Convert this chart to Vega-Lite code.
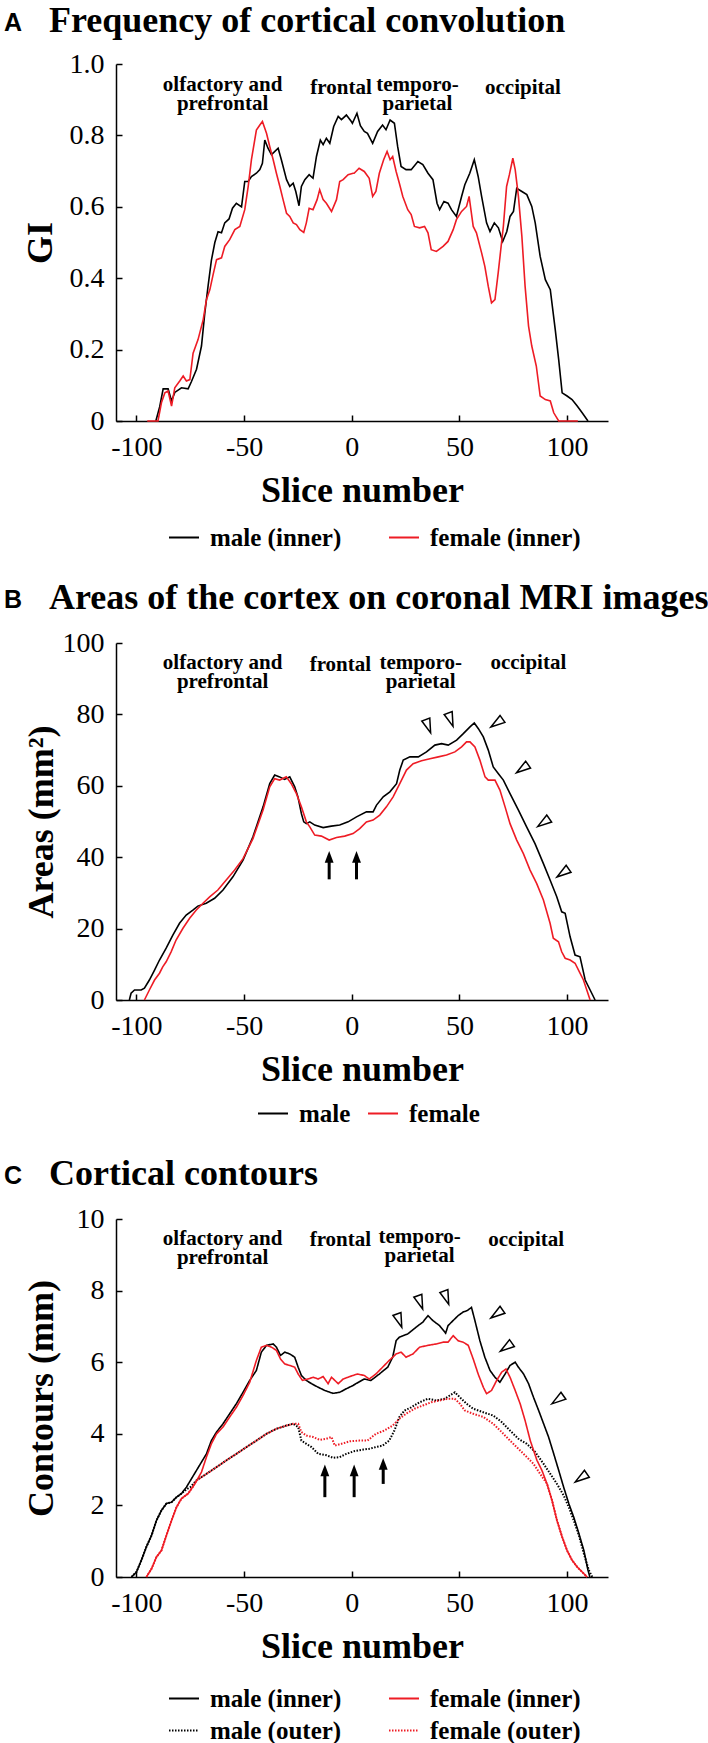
{
"$schema": "https://vega.github.io/schema/vega-lite/v6.json",
"background": "white",
"padding": {"left": 4, "top": 3, "right": 0, "bottom": 0},
"config": {
 "view": {"stroke": null},
 "font": "Liberation Serif",
 "axis": {"grid": false, "domainColor": "#000", "domainWidth": 1.5, "tickColor": "#000", "tickWidth": 1.5, "tickSize": -6, "labelFont": "Liberation Serif", "labelFontSize": 28, "labelColor": "#000", "titleFont": "Liberation Serif", "titleFontSize": 36, "titleFontWeight": "bold", "titleColor": "#000"},
 "axisX": {"labelPadding": 18, "titlePadding": 12, "labelExpr": "'' + datum.value"},
 "axisY": {"labelPadding": 18},
 "legend": {"orient": "none", "direction": "horizontal", "columns": 2, "symbolType": "stroke", "symbolSize": 900, "symbolStrokeWidth": 2, "labelFont": "Liberation Serif", "labelFontSize": 25, "labelFontWeight": "bold", "labelColor": "#000", "labelOffset": 10, "columnPadding": 46, "rowPadding": 5, "clipHeight": 27, "title": null},
 "title": {"anchor": "start", "frame": "group", "dx": -112, "font": "Liberation Sans", "fontSize": 25, "fontWeight": "bold", "color": "#000", "subtitleFont": "Liberation Serif", "subtitleFontSize": 36, "subtitleFontWeight": "bold", "subtitleColor": "#000", "subtitlePadding": -32, "offset": 5}
},
"datasets": {
 "Am": [{"x":-91,"v":0},{"x":-89.2,"v":0.04},{"x":-87.6,"v":0.09},{"x":-85.3,"v":0.09},{"x":-83.7,"v":0.056},{"x":-82.2,"v":0.08},{"x":-79.1,"v":0.093},{"x":-76,"v":0.09},{"x":-74.5,"v":0.11},{"x":-72.1,"v":0.145},{"x":-69.8,"v":0.21},{"x":-68.3,"v":0.3},{"x":-66.7,"v":0.38},{"x":-65.2,"v":0.45},{"x":-63.6,"v":0.5},{"x":-62.1,"v":0.53},{"x":-60.5,"v":0.527},{"x":-59,"v":0.555},{"x":-57,"v":0.566},{"x":-55.4,"v":0.596},{"x":-53.6,"v":0.61},{"x":-51.2,"v":0.6},{"x":-49.7,"v":0.671},{"x":-48.1,"v":0.671},{"x":-46.6,"v":0.685},{"x":-44.3,"v":0.694},{"x":-42.7,"v":0.704},{"x":-41.5,"v":0.722},{"x":-40.4,"v":0.787},{"x":-38.9,"v":0.764},{"x":-37.3,"v":0.746},{"x":-34.2,"v":0.764},{"x":-32.7,"v":0.732},{"x":-30.3,"v":0.676},{"x":-28.8,"v":0.657},{"x":-27.2,"v":0.666},{"x":-26,"v":0.643},{"x":-24.5,"v":0.603},{"x":-23.4,"v":0.657},{"x":-21.8,"v":0.676},{"x":-19.8,"v":0.69},{"x":-18,"v":0.68},{"x":-16.4,"v":0.741},{"x":-14.6,"v":0.787},{"x":-13.3,"v":0.774},{"x":-11.8,"v":0.792},{"x":-10.2,"v":0.778},{"x":-8.4,"v":0.825},{"x":-6.3,"v":0.853},{"x":-4.8,"v":0.844},{"x":-2.5,"v":0.857},{"x":-0.2,"v":0.839},{"x":0.3,"v":0.834},{"x":2.4,"v":0.862},{"x":4,"v":0.827},{"x":5.8,"v":0.811},{"x":7.3,"v":0.806},{"x":9.7,"v":0.778},{"x":12,"v":0.811},{"x":14.3,"v":0.829},{"x":15.9,"v":0.816},{"x":17.8,"v":0.843},{"x":19.8,"v":0.834},{"x":21.3,"v":0.769},{"x":22.9,"v":0.713},{"x":25.2,"v":0.704},{"x":27.6,"v":0.704},{"x":30.7,"v":0.727},{"x":33,"v":0.718},{"x":35.4,"v":0.694},{"x":37.7,"v":0.676},{"x":39.6,"v":0.61},{"x":40.8,"v":0.592},{"x":42.8,"v":0.615},{"x":44.7,"v":0.61},{"x":46.3,"v":0.592},{"x":48.6,"v":0.573},{"x":51,"v":0.629},{"x":52.5,"v":0.662},{"x":54.8,"v":0.694},{"x":56.9,"v":0.732},{"x":58.7,"v":0.685},{"x":60.3,"v":0.629},{"x":62.6,"v":0.555},{"x":64.2,"v":0.531},{"x":66.2,"v":0.555},{"x":68.1,"v":0.541},{"x":70.1,"v":0.503},{"x":72,"v":0.531},{"x":73.5,"v":0.573},{"x":75.1,"v":0.587},{"x":76.6,"v":0.652},{"x":79,"v":0.643},{"x":81.3,"v":0.634},{"x":83.6,"v":0.601},{"x":85.2,"v":0.555},{"x":87.5,"v":0.461},{"x":89.9,"v":0.396},{"x":92.2,"v":0.368},{"x":94.5,"v":0.256},{"x":96.1,"v":0.172},{"x":97.7,"v":0.079},{"x":100,"v":0.07},{"x":102.3,"v":0.06},{"x":104.7,"v":0.042},{"x":107,"v":0.023},{"x":109.7,"v":0}],
 "Af": [{"x":-95,"v":0},{"x":-90,"v":0},{"x":-88.4,"v":0.051},{"x":-86.8,"v":0.079},{"x":-85.3,"v":0.084},{"x":-83.7,"v":0.042},{"x":-82.2,"v":0.093},{"x":-79.9,"v":0.112},{"x":-78.3,"v":0.126},{"x":-76.8,"v":0.112},{"x":-75.2,"v":0.116},{"x":-73.7,"v":0.19},{"x":-71.4,"v":0.228},{"x":-69,"v":0.284},{"x":-67.5,"v":0.34},{"x":-65.9,"v":0.368},{"x":-64.4,"v":0.41},{"x":-62.8,"v":0.452},{"x":-60.5,"v":0.457},{"x":-59,"v":0.489},{"x":-56.7,"v":0.508},{"x":-54.3,"v":0.536},{"x":-52,"v":0.545},{"x":-49.7,"v":0.592},{"x":-48.1,"v":0.657},{"x":-46.6,"v":0.732},{"x":-44.3,"v":0.815},{"x":-42.7,"v":0.829},{"x":-41.5,"v":0.839},{"x":-39.6,"v":0.806},{"x":-38.1,"v":0.769},{"x":-36.5,"v":0.732},{"x":-35,"v":0.694},{"x":-33.4,"v":0.657},{"x":-31.9,"v":0.62},{"x":-30.3,"v":0.582},{"x":-28.8,"v":0.573},{"x":-27.2,"v":0.555},{"x":-25.7,"v":0.55},{"x":-24.1,"v":0.536},{"x":-22.3,"v":0.528},{"x":-21.1,"v":0.555},{"x":-19.8,"v":0.596},{"x":-18,"v":0.592},{"x":-16.1,"v":0.62},{"x":-14.9,"v":0.648},{"x":-13.3,"v":0.62},{"x":-11.8,"v":0.61},{"x":-9.4,"v":0.587},{"x":-7.1,"v":0.62},{"x":-5.6,"v":0.671},{"x":-4,"v":0.676},{"x":-1.7,"v":0.69},{"x":0.6,"v":0.694},{"x":1.1,"v":0.694},{"x":3.4,"v":0.708},{"x":5.8,"v":0.699},{"x":8.1,"v":0.68},{"x":9.7,"v":0.629},{"x":11.2,"v":0.643},{"x":12.8,"v":0.694},{"x":14.8,"v":0.732},{"x":16.4,"v":0.755},{"x":17.8,"v":0.732},{"x":19,"v":0.741},{"x":20.6,"v":0.699},{"x":22.1,"v":0.666},{"x":23.7,"v":0.629},{"x":26,"v":0.592},{"x":27.6,"v":0.578},{"x":29.1,"v":0.545},{"x":31.5,"v":0.541},{"x":33.8,"v":0.545},{"x":35.4,"v":0.527},{"x":36.9,"v":0.48},{"x":39.3,"v":0.475},{"x":42.4,"v":0.489},{"x":44.7,"v":0.503},{"x":47.1,"v":0.536},{"x":48.6,"v":0.564},{"x":51,"v":0.587},{"x":53.3,"v":0.601},{"x":54.5,"v":0.629},{"x":56.4,"v":0.545},{"x":57.9,"v":0.527},{"x":60.3,"v":0.471},{"x":61.8,"v":0.433},{"x":63.4,"v":0.377},{"x":64.9,"v":0.331},{"x":66.5,"v":0.34},{"x":68,"v":0.415},{"x":70.4,"v":0.545},{"x":71.9,"v":0.657},{"x":73.2,"v":0.69},{"x":74.8,"v":0.736},{"x":75.9,"v":0.704},{"x":77.4,"v":0.629},{"x":79,"v":0.517},{"x":80.5,"v":0.377},{"x":82.1,"v":0.266},{"x":83.6,"v":0.21},{"x":85.7,"v":0.154},{"x":87.5,"v":0.07},{"x":89.9,"v":0.06},{"x":92.2,"v":0.056},{"x":93.8,"v":0.023},{"x":96.1,"v":0},{"x":105,"v":0}],
 "Bm": [{"x":-103.3,"v":0},{"x":-102.5,"v":1.9},{"x":-100.9,"v":2.8},{"x":-97.8,"v":2.8},{"x":-96.3,"v":3.3},{"x":-94,"v":5.6},{"x":-91.6,"v":8.4},{"x":-89.3,"v":11.2},{"x":-86.2,"v":14.5},{"x":-83.1,"v":18.2},{"x":-80,"v":21.5},{"x":-76.9,"v":23.8},{"x":-73.8,"v":25.2},{"x":-71.5,"v":26.3},{"x":-67.6,"v":27.1},{"x":-63.7,"v":28.5},{"x":-59.8,"v":30.8},{"x":-55.2,"v":34.5},{"x":-50.5,"v":39.2},{"x":-45.9,"v":45.7},{"x":-41.2,"v":54.1},{"x":-38.1,"v":60.6},{"x":-35.8,"v":63},{"x":-33.5,"v":62.5},{"x":-31.2,"v":61.8},{"x":-28.8,"v":62.5},{"x":-26.5,"v":59.7},{"x":-25,"v":56.9},{"x":-23.4,"v":52.2},{"x":-22.3,"v":49.9},{"x":-21.1,"v":49.4},{"x":-19.5,"v":49.9},{"x":-17.2,"v":49},{"x":-13.3,"v":48.3},{"x":-9.5,"v":48.7},{"x":-5.6,"v":49},{"x":-1.7,"v":49.9},{"x":2.2,"v":51.3},{"x":6.8,"v":52.7},{"x":9.9,"v":52.7},{"x":11.5,"v":54.6},{"x":14.6,"v":56.9},{"x":17.7,"v":58.3},{"x":20.8,"v":60.6},{"x":22.3,"v":64.4},{"x":23.9,"v":67.2},{"x":27,"v":68.1},{"x":30.9,"v":68.1},{"x":34.7,"v":69.5},{"x":38.6,"v":71.4},{"x":41.7,"v":71.8},{"x":44.8,"v":71.4},{"x":48.7,"v":72.8},{"x":51.8,"v":74.6},{"x":54.9,"v":76.5},{"x":56.9,"v":77.6},{"x":58.8,"v":76},{"x":61.1,"v":73.7},{"x":63.4,"v":70},{"x":65.7,"v":65.3},{"x":68.1,"v":63.4},{"x":70.4,"v":61.6},{"x":73.5,"v":57.8},{"x":77.4,"v":53.2},{"x":81.2,"v":48.5},{"x":85.1,"v":43.8},{"x":89,"v":38.2},{"x":92.1,"v":33.6},{"x":95.2,"v":28.9},{"x":97.5,"v":24.7},{"x":99.1,"v":24.3},{"x":101.4,"v":17.7},{"x":103.7,"v":12.6},{"x":106,"v":12.1},{"x":108.4,"v":5.6},{"x":110.7,"v":2.8},{"x":113,"v":0}],
 "Bf": [{"x":-96.3,"v":0},{"x":-94,"v":2.8},{"x":-91.6,"v":5.6},{"x":-89.3,"v":7.5},{"x":-87.8,"v":9.3},{"x":-86.2,"v":10.7},{"x":-83.9,"v":13.5},{"x":-81.6,"v":16.8},{"x":-78.4,"v":20.1},{"x":-75.3,"v":22.9},{"x":-72.2,"v":25.2},{"x":-69.1,"v":27.1},{"x":-66,"v":28.9},{"x":-62.2,"v":30.8},{"x":-58.3,"v":33.6},{"x":-54.4,"v":36.4},{"x":-50.5,"v":39.6},{"x":-45.9,"v":45.2},{"x":-41.2,"v":53.2},{"x":-38.1,"v":59.7},{"x":-35.8,"v":62},{"x":-33.5,"v":61.6},{"x":-30.4,"v":62.5},{"x":-28.1,"v":60.6},{"x":-25.7,"v":57.8},{"x":-23.4,"v":54.1},{"x":-21.1,"v":49.9},{"x":-19.5,"v":48.5},{"x":-17.2,"v":46.2},{"x":-14.1,"v":45.9},{"x":-10.5,"v":44.8},{"x":-7.1,"v":45.5},{"x":-3.3,"v":45.9},{"x":0.6,"v":46.6},{"x":3.7,"v":48},{"x":6.8,"v":49.9},{"x":9.9,"v":50.4},{"x":13,"v":51.8},{"x":16.1,"v":54.1},{"x":19.2,"v":56.9},{"x":22.3,"v":60.6},{"x":25.4,"v":64.4},{"x":28.5,"v":66.2},{"x":32.4,"v":67},{"x":36.3,"v":67.6},{"x":40.2,"v":68.1},{"x":44,"v":68.6},{"x":47.9,"v":69.5},{"x":51,"v":70.9},{"x":53.3,"v":72.3},{"x":54.9,"v":72.3},{"x":57.2,"v":70.9},{"x":59.5,"v":67.2},{"x":61.9,"v":62.5},{"x":63.4,"v":61.6},{"x":66.5,"v":61.6},{"x":68.8,"v":58.8},{"x":71.2,"v":54.1},{"x":73.5,"v":49.4},{"x":76.6,"v":44.8},{"x":79.7,"v":41},{"x":82.8,"v":36.4},{"x":85.9,"v":32.6},{"x":89,"v":28},{"x":92.1,"v":21.5},{"x":93.6,"v":17.3},{"x":96,"v":16.3},{"x":97.5,"v":13.5},{"x":99.1,"v":11.7},{"x":101.4,"v":11.2},{"x":103.7,"v":10.3},{"x":106,"v":7.5},{"x":107.6,"v":5.6},{"x":110.7,"v":0}],
 "Cmi": [{"x":-102.3,"v":0},{"x":-100,"v":0.14},{"x":-97.7,"v":0.47},{"x":-95.4,"v":0.84},{"x":-93,"v":1.16},{"x":-90.7,"v":1.58},{"x":-88.4,"v":1.86},{"x":-86.1,"v":2.05},{"x":-83.7,"v":2.09},{"x":-81.4,"v":2.23},{"x":-79.1,"v":2.33},{"x":-76.8,"v":2.51},{"x":-74.5,"v":2.74},{"x":-72.1,"v":2.98},{"x":-69.8,"v":3.21},{"x":-67.5,"v":3.44},{"x":-65.2,"v":3.81},{"x":-62.8,"v":4.05},{"x":-59.8,"v":4.28},{"x":-56.7,"v":4.56},{"x":-53.6,"v":4.84},{"x":-50.5,"v":5.16},{"x":-47.4,"v":5.49},{"x":-44.3,"v":5.77},{"x":-42,"v":6.28},{"x":-39.6,"v":6.47},{"x":-36.5,"v":6.51},{"x":-35,"v":6.42},{"x":-33.1,"v":6.19},{"x":-31.1,"v":6.28},{"x":-28.8,"v":6.23},{"x":-26.5,"v":6.14},{"x":-24.9,"v":5.86},{"x":-23.4,"v":5.63},{"x":-21.1,"v":5.49},{"x":-18.7,"v":5.4},{"x":-15.6,"v":5.3},{"x":-12.5,"v":5.21},{"x":-8.7,"v":5.13},{"x":-5.6,"v":5.16},{"x":-2.5,"v":5.26},{"x":0.6,"v":5.35},{"x":1.9,"v":5.4},{"x":5.8,"v":5.53},{"x":8.9,"v":5.49},{"x":12.8,"v":5.67},{"x":16.7,"v":5.86},{"x":19,"v":6.14},{"x":20.6,"v":6.6},{"x":22.1,"v":6.7},{"x":26,"v":6.79},{"x":29.9,"v":6.98},{"x":33,"v":7.12},{"x":35.4,"v":7.3},{"x":37.7,"v":7.16},{"x":40.8,"v":7.02},{"x":43.6,"v":6.81},{"x":44.7,"v":7.02},{"x":47,"v":7.16},{"x":49.4,"v":7.3},{"x":51.7,"v":7.4},{"x":53.6,"v":7.44},{"x":55.6,"v":7.53},{"x":57.2,"v":7.16},{"x":59.5,"v":6.6},{"x":61.8,"v":6.14},{"x":64.2,"v":5.77},{"x":66.5,"v":5.58},{"x":68.8,"v":5.44},{"x":71.2,"v":5.67},{"x":73.5,"v":5.91},{"x":75.9,"v":6},{"x":77.4,"v":5.86},{"x":79.8,"v":5.67},{"x":82.1,"v":5.4},{"x":84.4,"v":5.02},{"x":86.8,"v":4.65},{"x":89.1,"v":4.28},{"x":91.4,"v":3.91},{"x":93.8,"v":3.44},{"x":96.1,"v":2.98},{"x":98.4,"v":2.51},{"x":100.8,"v":2.05},{"x":103.1,"v":1.67},{"x":105.5,"v":1.21},{"x":107.8,"v":0.74},{"x":109.7,"v":0.19},{"x":110.6,"v":0}],
 "Cfi": [{"x":-95.4,"v":0},{"x":-93,"v":0.23},{"x":-90.7,"v":0.56},{"x":-88.4,"v":0.74},{"x":-86.1,"v":1.16},{"x":-83.7,"v":1.58},{"x":-81.4,"v":1.95},{"x":-79.1,"v":2.19},{"x":-76,"v":2.33},{"x":-72.9,"v":2.6},{"x":-69.8,"v":2.93},{"x":-67.5,"v":3.35},{"x":-65.2,"v":3.72},{"x":-62.8,"v":4},{"x":-59.8,"v":4.19},{"x":-56.7,"v":4.47},{"x":-53.6,"v":4.74},{"x":-50.5,"v":5.07},{"x":-47.4,"v":5.44},{"x":-44.3,"v":6.05},{"x":-42,"v":6.42},{"x":-39.6,"v":6.47},{"x":-37.3,"v":6.42},{"x":-35,"v":6.33},{"x":-33.1,"v":6.09},{"x":-31.1,"v":5.95},{"x":-28.8,"v":5.91},{"x":-26.5,"v":5.86},{"x":-24.9,"v":5.67},{"x":-22.9,"v":5.49},{"x":-20.3,"v":5.53},{"x":-17.9,"v":5.58},{"x":-15.6,"v":5.53},{"x":-13.3,"v":5.6},{"x":-11,"v":5.4},{"x":-9.4,"v":5.58},{"x":-6.3,"v":5.4},{"x":-4,"v":5.53},{"x":-0.9,"v":5.6},{"x":2.6,"v":5.67},{"x":5.8,"v":5.63},{"x":8.1,"v":5.53},{"x":11.2,"v":5.67},{"x":14.3,"v":5.86},{"x":17.4,"v":6.05},{"x":20.6,"v":6.23},{"x":22.9,"v":6.28},{"x":25.2,"v":6.14},{"x":28.4,"v":6.23},{"x":31.5,"v":6.42},{"x":35.4,"v":6.47},{"x":39.3,"v":6.51},{"x":42.4,"v":6.56},{"x":44.7,"v":6.56},{"x":47.1,"v":6.74},{"x":49.4,"v":6.6},{"x":51.7,"v":6.56},{"x":54.1,"v":6.47},{"x":56.4,"v":6.09},{"x":58.7,"v":5.67},{"x":61.1,"v":5.3},{"x":62.6,"v":5.12},{"x":64.9,"v":5.21},{"x":67.3,"v":5.49},{"x":69.6,"v":5.72},{"x":71.6,"v":5.81},{"x":73.5,"v":5.58},{"x":75.9,"v":5.21},{"x":78.2,"v":4.84},{"x":80.5,"v":4.37},{"x":82.9,"v":3.81},{"x":86,"v":3.26},{"x":88.3,"v":2.98},{"x":90.7,"v":2.6},{"x":93,"v":2.14},{"x":95.3,"v":1.58},{"x":97.7,"v":1.12},{"x":100,"v":0.74},{"x":102.3,"v":0.47},{"x":104.7,"v":0.28},{"x":107,"v":0.14},{"x":109.3,"v":0}],
 "Cmo": [{"x":-102.3,"v":0},{"x":-100,"v":0.14},{"x":-97.7,"v":0.47},{"x":-95.4,"v":0.84},{"x":-93,"v":1.16},{"x":-90.7,"v":1.58},{"x":-88.4,"v":1.86},{"x":-86.1,"v":2.05},{"x":-83.7,"v":2.09},{"x":-81.4,"v":2.23},{"x":-79.1,"v":2.33},{"x":-76.8,"v":2.45},{"x":-75,"v":2.51},{"x":-72.1,"v":2.7},{"x":-67.5,"v":2.88},{"x":-62.8,"v":3.07},{"x":-58.2,"v":3.26},{"x":-53.6,"v":3.44},{"x":-48.9,"v":3.63},{"x":-44.3,"v":3.81},{"x":-39.6,"v":4},{"x":-35,"v":4.14},{"x":-30.3,"v":4.23},{"x":-27.2,"v":4.28},{"x":-24.9,"v":4.19},{"x":-23.4,"v":3.81},{"x":-21.1,"v":3.72},{"x":-18.7,"v":3.63},{"x":-15.6,"v":3.44},{"x":-11.8,"v":3.4},{"x":-8.7,"v":3.33},{"x":-5.6,"v":3.35},{"x":-2.5,"v":3.44},{"x":1.4,"v":3.52},{"x":5.3,"v":3.56},{"x":8.1,"v":3.58},{"x":11.2,"v":3.63},{"x":14.3,"v":3.67},{"x":17.4,"v":3.81},{"x":19.8,"v":4.09},{"x":22.1,"v":4.47},{"x":24.5,"v":4.65},{"x":27.6,"v":4.74},{"x":31.5,"v":4.88},{"x":35.4,"v":4.98},{"x":39.3,"v":4.93},{"x":43.2,"v":4.98},{"x":45.5,"v":5.07},{"x":47.9,"v":5.16},{"x":50.2,"v":5.02},{"x":53.3,"v":4.84},{"x":56.4,"v":4.7},{"x":61.1,"v":4.6},{"x":65.7,"v":4.51},{"x":69.6,"v":4.33},{"x":73.5,"v":4.09},{"x":77.4,"v":3.86},{"x":81.3,"v":3.72},{"x":85.2,"v":3.49},{"x":89.1,"v":3.16},{"x":92.2,"v":2.88},{"x":95.3,"v":2.6},{"x":98.4,"v":2.28},{"x":100.8,"v":1.95},{"x":103.1,"v":1.58},{"x":105.5,"v":1.16},{"x":107.8,"v":0.65},{"x":110.1,"v":0.19},{"x":111.7,"v":0}],
 "Cfo": [{"x":-95.4,"v":0},{"x":-93,"v":0.23},{"x":-90.7,"v":0.56},{"x":-88.4,"v":0.74},{"x":-86.1,"v":1.16},{"x":-83.7,"v":1.58},{"x":-81.4,"v":1.95},{"x":-79.1,"v":2.19},{"x":-76,"v":2.33},{"x":-74,"v":2.5},{"x":-72.1,"v":2.7},{"x":-67.5,"v":2.88},{"x":-62.8,"v":3.07},{"x":-58.2,"v":3.26},{"x":-53.6,"v":3.44},{"x":-48.9,"v":3.63},{"x":-44.3,"v":3.81},{"x":-39.6,"v":4},{"x":-35,"v":4.14},{"x":-30.3,"v":4.23},{"x":-27.2,"v":4.28},{"x":-24.9,"v":4.28},{"x":-23.4,"v":4.05},{"x":-21.1,"v":3.95},{"x":-18,"v":3.91},{"x":-14.9,"v":3.83},{"x":-11.8,"v":3.86},{"x":-9.4,"v":3.91},{"x":-7.9,"v":3.67},{"x":-4.8,"v":3.72},{"x":-0.9,"v":3.79},{"x":3.4,"v":3.81},{"x":7.3,"v":3.81},{"x":11.2,"v":4},{"x":15.1,"v":4.09},{"x":19,"v":4.23},{"x":22.1,"v":4.42},{"x":25.2,"v":4.56},{"x":29.1,"v":4.7},{"x":33,"v":4.79},{"x":36.9,"v":4.88},{"x":40.8,"v":4.93},{"x":44.7,"v":4.98},{"x":47.8,"v":4.98},{"x":50.2,"v":4.84},{"x":52.5,"v":4.65},{"x":56.4,"v":4.56},{"x":61.1,"v":4.47},{"x":65.7,"v":4.28},{"x":69.6,"v":4.05},{"x":73.5,"v":3.81},{"x":77.4,"v":3.58},{"x":81.3,"v":3.35},{"x":84.4,"v":3.16},{"x":87.5,"v":2.88},{"x":90.7,"v":2.6},{"x":93,"v":2.14},{"x":95.3,"v":1.58},{"x":97.7,"v":1.12},{"x":100,"v":0.74},{"x":102.3,"v":0.47},{"x":104.7,"v":0.28},{"x":107,"v":0.14},{"x":109.3,"v":0}],
 "bandA": [{"x":-20,"x2":10},{"x":55,"x2":110}],
 "bandB": [{"x":-20,"x2":10},{"x":55,"x2":114}],
 "bandC": [{"x":-20,"x2":9},{"x":54,"x2":112.5}],
 "labA": [{"x":-60,"v":0.94,"t":"olfactory and\nprefrontal"},{"x":-5,"v":0.933,"t":"frontal"},{"x":30.5,"v":0.94,"t":"temporo-\nparietal"},{"x":79.5,"v":0.933,"t":"occipital"}],
 "labB": [{"x":-60,"v":94.3,"t":"olfactory and\nprefrontal"},{"x":-5.3,"v":93.8,"t":"frontal"},{"x":32,"v":94.3,"t":"temporo-\nparietal"},{"x":82,"v":94.4,"t":"occipital"}],
 "labC": [{"x":-60,"v":9.45,"t":"olfactory and\nprefrontal"},{"x":-5.3,"v":9.4,"t":"frontal"},{"x":31.5,"v":9.5,"t":"temporo-\nparietal"},{"x":81,"v":9.4,"t":"occipital"}],
 "triB": [{"x":35.5,"v":76.7,"side":"upper"},{"x":45.9,"v":78.5,"side":"upper"},{"x":67.3,"v":77.6,"side":"right"},{"x":79.2,"v":64.8,"side":"right"},{"x":89,"v":49.7,"side":"right"},{"x":98,"v":35.6,"side":"right"}],
 "triC": [{"x":22.1,"v":7.16,"side":"upper"},{"x":31.8,"v":7.67,"side":"upper"},{"x":43.9,"v":7.8,"side":"upper"},{"x":67.3,"v":7.35,"side":"right"},{"x":71.7,"v":6.42,"side":"right"},{"x":95.6,"v":4.95,"side":"right"},{"x":106.5,"v":2.77,"side":"right"}],
 "arrB": [{"x":-10.5,"v1":33.8,"v2":40.1},{"x":2.2,"v1":33.8,"v2":40.1}],
 "arrC": [{"x":-12.5,"v1":2.23,"v2":2.98},{"x":1.1,"v1":2.23,"v2":2.98},{"x":14.6,"v1":2.6,"v2":3.16}]
},
"spacing": 29,
"resolve": {"scale": {"x": "independent", "y": "independent", "color": "independent", "strokeDash": "independent"}, "legend": {"color": "independent", "strokeDash": "independent"}},
"vconcat": [
 {
  "width": 492, "height": 357,
  "title": {"text": "A", "fontSize": 25, "offset": 3, "subtitle": "\u200b\u00a0\u00a0\u00a0\u00a0\u00a0Frequency of cortical convolution"},
  "encoding": {
   "x": {"field": "x", "type": "quantitative", "scale": {"domain": [-109.5, 119], "nice": false, "zero": false}, "axis": {"values": [-100, -50, 0, 50, 100], "title": "Slice number"}},
   "y": {"field": "v", "type": "quantitative", "scale": {"domain": [0, 1], "nice": false}, "axis": {"values": [0, 0.2, 0.4, 0.6, 0.8, 1], "labelExpr": "datum.value == 0 ? '0' : format(datum.value, '.1f')", "title": "GI", "titlePadding": 10}}
  },
  "layer": [
   {"data": {"name": "bandA"}, "mark": {"type": "rect", "color": "#f1f1f1"}, "encoding": {"x2": {"field": "x2"}, "y": {"datum": 1, "type": "quantitative"}, "y2": {"datum": 0}}},
   {"data": {"name": "Am"}, "mark": {"type": "line", "strokeWidth": 1.6}, "encoding": {"color": {"datum": "male (inner)", "type": "nominal", "scale": {"domain": ["male (inner)", "female (inner)"], "range": ["#000000", "#ee1c25"]}, "legend": {"legendX": 52, "legendY": 460}}}},
   {"data": {"name": "Af"}, "mark": {"type": "line", "strokeWidth": 1.6}, "encoding": {"color": {"datum": "female (inner)", "type": "nominal"}}},
   {"data": {"name": "labA"}, "mark": {"type": "text", "font": "Liberation Serif", "fontSize": 21, "fontWeight": "bold", "lineBreak": "\n", "lineHeight": 19, "align": "center", "baseline": "middle", "color": "#000"}, "encoding": {"text": {"field": "t"}}}
  ]
 },
 {
  "width": 492, "height": 357,
  "title": {"text": "B", "fontSize": 25, "subtitle": "\u200b\u00a0\u00a0\u00a0\u00a0\u00a0Areas of the cortex on coronal MRI images"},
  "encoding": {
   "x": {"field": "x", "type": "quantitative", "scale": {"domain": [-109.5, 119], "nice": false, "zero": false}, "axis": {"values": [-100, -50, 0, 50, 100], "title": "Slice number"}},
   "y": {"field": "v", "type": "quantitative", "scale": {"domain": [0, 100], "nice": false}, "axis": {"values": [0, 20, 40, 60, 80, 100], "title": "Areas (mm²)", "titlePadding": 2}}
  },
  "layer": [
   {"data": {"name": "bandB"}, "mark": {"type": "rect", "color": "#e6e6e6"}, "encoding": {"x2": {"field": "x2"}, "y": {"datum": 100, "type": "quantitative"}, "y2": {"datum": 0}}},
   {"data": {"name": "Bm"}, "mark": {"type": "line", "strokeWidth": 1.6}, "encoding": {"color": {"datum": "male", "type": "nominal", "scale": {"domain": ["male", "female"], "range": ["#000000", "#ee1c25"]}, "legend": {"legendX": 141, "legendY": 457, "columns": 2, "columnPadding": 16}}}},
   {"data": {"name": "Bf"}, "mark": {"type": "line", "strokeWidth": 1.6}, "encoding": {"color": {"datum": "female", "type": "nominal"}}},
   {"data": {"name": "labB"}, "mark": {"type": "text", "font": "Liberation Serif", "fontSize": 21, "fontWeight": "bold", "lineBreak": "\n", "lineHeight": 19, "align": "center", "baseline": "middle", "color": "#000"}, "encoding": {"text": {"field": "t"}}},
   {"data": {"name": "triB"}, "transform": [{"filter": "datum.side == 'upper'"}], "mark": {"type": "point", "shape": "M0,-1L0.6,1L-0.6,1Z", "size": 200, "filled": false, "stroke": "#000", "strokeWidth": 1.5, "angle": 160, "opacity": 1}},
   {"data": {"name": "triB"}, "transform": [{"filter": "datum.side == 'right'"}], "mark": {"type": "point", "shape": "M0,-1L0.6,1L-0.6,1Z", "size": 200, "filled": false, "stroke": "#000", "strokeWidth": 1.5, "angle": 235, "opacity": 1}},
   {"data": {"name": "arrB"}, "mark": {"type": "rule", "strokeWidth": 3, "color": "#000"}, "encoding": {"y": {"field": "v1", "type": "quantitative"}, "y2": {"field": "v2"}}},
   {"data": {"name": "arrB"}, "mark": {"type": "point", "shape": "M0,-1L0.75,1L-0.75,1Z", "size": 140, "filled": true, "color": "#000", "opacity": 1}, "encoding": {"y": {"field": "v2", "type": "quantitative"}}}
  ]
 },
 {
  "width": 492, "height": 358,
  "title": {"text": "C", "fontSize": 25, "subtitle": "\u200b\u00a0\u00a0\u00a0\u00a0\u00a0Cortical contours"},
  "encoding": {
   "x": {"field": "x", "type": "quantitative", "scale": {"domain": [-109.5, 119], "nice": false, "zero": false}, "axis": {"values": [-100, -50, 0, 50, 100], "title": "Slice number"}},
   "y": {"field": "v", "type": "quantitative", "scale": {"domain": [0, 10], "nice": false}, "axis": {"values": [0, 2, 4, 6, 8, 10], "title": "Contours (mm)", "titlePadding": 16}}
  },
  "layer": [
   {"data": {"name": "bandC"}, "mark": {"type": "rect", "color": "#e6e6e6"}, "encoding": {"x2": {"field": "x2"}, "y": {"datum": 10, "type": "quantitative"}, "y2": {"datum": 0}}},
   {"data": {"name": "Cmo"}, "mark": {"type": "line", "strokeWidth": 2}, "encoding": {"color": {"datum": "male (outer)", "type": "nominal", "scale": {"domain": ["male (inner)", "female (inner)", "male (outer)", "female (outer)"], "range": ["#000000", "#ee1c25", "#000000", "#ee1c25"]}, "legend": {"legendX": 52, "legendY": 466}}, "strokeDash": {"datum": "male (outer)", "type": "nominal", "scale": {"domain": ["male (inner)", "female (inner)", "male (outer)", "female (outer)"], "range": [[1, 0], [1, 0], [1.5, 1.5], [1.5, 1.5]]}, "legend": {"legendX": 52, "legendY": 466}}}},
   {"data": {"name": "Cfo"}, "mark": {"type": "line", "strokeWidth": 2}, "encoding": {"color": {"datum": "female (outer)", "type": "nominal"}, "strokeDash": {"datum": "female (outer)", "type": "nominal"}}},
   {"data": {"name": "Cmi"}, "mark": {"type": "line", "strokeWidth": 1.6}, "encoding": {"color": {"datum": "male (inner)", "type": "nominal"}, "strokeDash": {"datum": "male (inner)", "type": "nominal"}}},
   {"data": {"name": "Cfi"}, "mark": {"type": "line", "strokeWidth": 1.6}, "encoding": {"color": {"datum": "female (inner)", "type": "nominal"}, "strokeDash": {"datum": "female (inner)", "type": "nominal"}}},
   {"data": {"name": "labC"}, "mark": {"type": "text", "font": "Liberation Serif", "fontSize": 21, "fontWeight": "bold", "lineBreak": "\n", "lineHeight": 19, "align": "center", "baseline": "middle", "color": "#000"}, "encoding": {"text": {"field": "t"}}},
   {"data": {"name": "triC"}, "transform": [{"filter": "datum.side == 'upper'"}], "mark": {"type": "point", "shape": "M0,-1L0.6,1L-0.6,1Z", "size": 200, "filled": false, "stroke": "#000", "strokeWidth": 1.5, "angle": 160, "opacity": 1}},
   {"data": {"name": "triC"}, "transform": [{"filter": "datum.side == 'right'"}], "mark": {"type": "point", "shape": "M0,-1L0.6,1L-0.6,1Z", "size": 200, "filled": false, "stroke": "#000", "strokeWidth": 1.5, "angle": 235, "opacity": 1}},
   {"data": {"name": "arrC"}, "mark": {"type": "rule", "strokeWidth": 3, "color": "#000"}, "encoding": {"y": {"field": "v1", "type": "quantitative"}, "y2": {"field": "v2"}}},
   {"data": {"name": "arrC"}, "mark": {"type": "point", "shape": "M0,-1L0.75,1L-0.75,1Z", "size": 140, "filled": true, "color": "#000", "opacity": 1}, "encoding": {"y": {"field": "v2", "type": "quantitative"}}}
  ]
 }
]
}
